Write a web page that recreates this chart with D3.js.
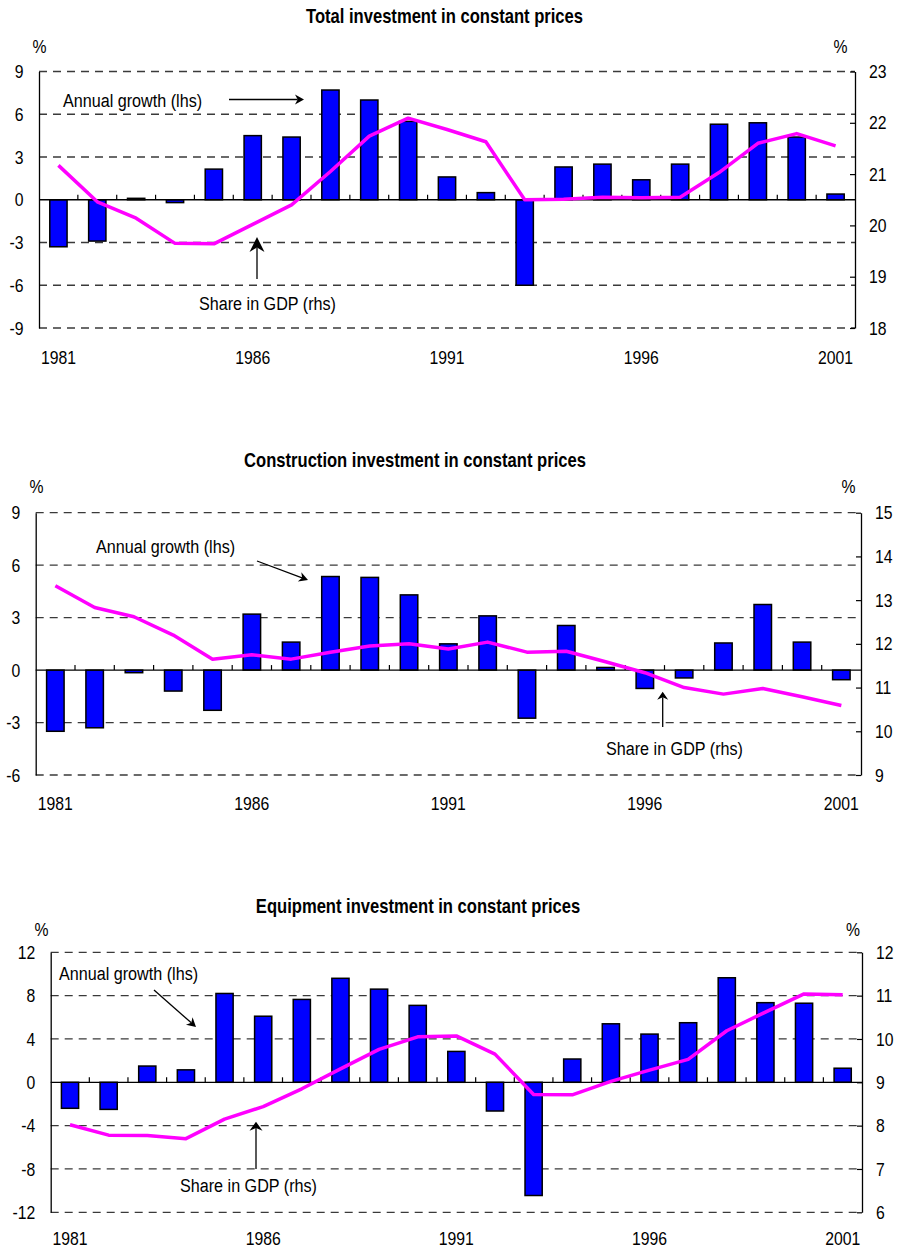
<!DOCTYPE html>
<html><head><meta charset="utf-8">
<script src="https://cdn.jsdelivr.net/npm/d3@7"></script>
<style>
html,body{margin:0;padding:0;background:#fff;}
text{font-family:'Liberation Sans',Arial,sans-serif;fill:#000;}
</style></head>
<body>
<script>
// ---------- data ----------
const years = ["1981","1982","1983","1984","1985","1986","1987","1988","1989","1990","1991",
               "1992","1993","1994","1995","1996","1997","1998","1999","2000","2001"];
const yearLabels = ["1981","1986","1991","1996","2001"];

const totalGrowth = [-3.3,-2.9,0.1,-0.2,2.15,4.5,4.4,7.7,7.0,5.5,1.6,0.5,-6.0,2.3,2.5,1.4,2.5,5.3,5.4,4.4,0.4];
const totalShare  = [21.17,20.46,20.14,19.65,19.64,20.02,20.40,21.05,21.74,22.09,21.87,21.63,20.50,20.51,20.55,20.54,20.55,21.03,21.60,21.79,21.55];

const constrGrowth = [-3.5,-3.3,-0.15,-1.2,-2.3,3.2,1.6,5.35,5.3,4.3,1.5,3.1,-2.75,2.55,0.15,-1.05,-0.45,1.55,3.75,1.6,-0.55];
const constrShare  = [13.33,12.83,12.62,12.20,11.65,11.75,11.65,11.81,11.95,12.00,11.88,12.04,11.81,11.83,11.59,11.34,11.00,10.85,10.98,10.79,10.59];

const equipGrowth = [-2.4,-2.5,1.5,1.15,8.2,6.1,7.65,9.6,8.6,7.1,2.85,-2.65,-10.45,2.15,5.4,4.45,5.5,9.65,7.35,7.3,1.3];
const equipShare  = [8.02,7.78,7.77,7.70,8.15,8.44,8.85,9.31,9.76,10.05,10.07,9.65,8.72,8.71,9.02,9.28,9.53,10.19,10.62,11.04,11.02];

const leftTicks1 = [-9,-6,-3,0,3,6,9];
const rightTicks1 = [18,19,20,21,22,23];
const leftTicks2 = [-6,-3,0,3,6,9];
const rightTicks2 = [9,10,11,12,13,14,15];
const leftTicks3 = [-12,-8,-4,0,4,8,12];
const rightTicks3 = [6,7,8,9,10,11,12];

const titles = ["Total investment in constant prices",
                "Construction investment in constant prices",
                "Equipment investment in constant prices"];
const growthLabel = "Annual growth (lhs)";
const shareLabel = "Share in GDP (rhs)";

// ---------- drawing ----------
const SX = 0.83;      // narrow-font emulation
const svg = d3.select("body").append("svg").attr("width",898).attr("height",1249);

function txt(g, x, y, s, size, anchor, sx, bold){
  const t = g.append("text").attr("transform",`translate(${x},${y}) scale(${sx||SX},1)`)
    .attr("font-size",size).attr("text-anchor",anchor||"start").text(s);
  if(bold) t.attr("font-weight","bold");
  return t;
}

function arrow(g, x1,y1,x2,y2, len, hw){
  const a = Math.atan2(y2-y1,x2-x1);
  const bx = x2 - len*Math.cos(a), by = y2 - len*Math.sin(a);
  g.append("line").attr("x1",x1).attr("y1",y1).attr("x2",bx+(len*0.3)*Math.cos(a)).attr("y2",by+(len*0.3)*Math.sin(a))
    .attr("stroke","#000").attr("stroke-width",1.3);
  const px = -Math.sin(a), py = Math.cos(a);
  g.append("path").attr("d",`M${x2},${y2}L${bx+hw*px},${by+hw*py}L${bx+0.3*len*Math.cos(a)},${by+0.3*len*Math.sin(a)}L${bx-hw*px},${by-hw*py}Z`).attr("fill","#000");
}

function panel(cfg){
  const g = svg.append("g");
  const x = d3.scaleBand().domain(years).range([cfg.left,cfg.right]).paddingInner(0.555).paddingOuter(0.2775);
  const yL = d3.scaleLinear().domain(d3.extent(cfg.leftTicks)).range([cfg.bottom,cfg.top]);
  const yR = d3.scaleLinear().domain(d3.extent(cfg.rightTicks)).range([cfg.bottom,cfg.top]);

  // title and percent labels
  txt(g, cfg.titleX, cfg.titleY, cfg.title, 20, "middle", SX, true);
  txt(g, cfg.pctL, cfg.pctY, "%", 19, "middle");
  txt(g, cfg.pctR, cfg.pctY, "%", 19, "middle");

  // grid
  g.append("g").selectAll("line").data(cfg.leftTicks.filter(d=>d!==0)).join("line")
    .attr("x1",cfg.left).attr("x2",cfg.right).attr("y1",d=>yL(d)).attr("y2",d=>yL(d))
    .attr("stroke","#3a3a3a").attr("stroke-width",1.3).attr("stroke-dasharray","8,6");

  // bars
  g.append("g").selectAll("rect").data(cfg.growth).join("rect")
    .attr("x",(d,i)=>x(years[i])).attr("width",x.bandwidth())
    .attr("y",d=>Math.min(yL(d),yL(0))).attr("height",d=>Math.abs(yL(d)-yL(0)))
    .attr("fill","#0000FF").attr("stroke","#000").attr("stroke-width",1.5);

  // zero line and x ticks
  g.append("line").attr("x1",cfg.left).attr("x2",cfg.right).attr("y1",yL(0)).attr("y2",yL(0))
    .attr("stroke","#000").attr("stroke-width",1.3);
  const gap = (x.step()-x.bandwidth())/2;
  g.append("g").selectAll("line").data(years.slice(1)).join("line")
    .attr("x1",d=>x(d)-gap).attr("x2",d=>x(d)-gap).attr("y1",yL(0)).attr("y2",yL(0)-5)
    .attr("stroke","#000").attr("stroke-width",1.2);

  // axes
  const aL = g.append("g").attr("transform",`translate(${cfg.left},0)`)
    .call(d3.axisLeft(yL).tickValues(cfg.leftTicks).tickSize(0).tickPadding(15.5).tickFormat(d=>String(d)));
  const aR = g.append("g").attr("transform",`translate(${cfg.right},0)`)
    .call(d3.axisRight(yR).tickValues(cfg.rightTicks).tickSizeInner(-5).tickSizeOuter(0).tickPadding(14).tickFormat(d=>String(d)));
  [aL,aR].forEach(a=>{
    a.select(".domain").attr("stroke","#000").attr("stroke-width",1.3);
    a.selectAll(".tick line").attr("stroke","#000").attr("stroke-width",1.2);
    a.selectAll(".tick text").attr("font-size",19).attr("fill","#000")
      .attr("font-family","'Liberation Sans',Arial,sans-serif")
      .each(function(){
        const t = d3.select(this);
        const xv = +t.attr("x");
        t.attr("x", xv/SX).attr("transform",`scale(${SX},1)`);
      });
  });

  // year labels
  yearLabels.forEach(d=>txt(g, x(d)+x.bandwidth()/2, cfg.yearY, d, 19, "middle"));

  // share line
  g.append("path").datum(cfg.share)
    .attr("d",d3.line().x((d,i)=>x(years[i])+x.bandwidth()/2).y(d=>yR(d)))
    .attr("fill","none").attr("stroke","#FF00FF").attr("stroke-width",3.5).attr("stroke-linejoin","round");

  // annotations
  txt(g, cfg.gLab[0], cfg.gLab[1], growthLabel, 19, "start", 0.85);
  txt(g, cfg.sLab[0], cfg.sLab[1], shareLabel, 19, "start", 0.85);
  arrow(g, ...cfg.gArrow);
  arrow(g, ...cfg.sArrow);
}

panel({title:titles[0], titleX:444.5, titleY:23, pctL:39.5, pctR:840.5, pctY:53,
  left:39, right:855, top:71.5, bottom:328, yearY:364,
  leftTicks:leftTicks1, rightTicks:rightTicks1, growth:totalGrowth, share:totalShare,
  gLab:[63,107], sLab:[199,310],
  gArrow:[229,99.5,304,99.5,9,5], sArrow:[257,279,257,237,15,7.5]});

panel({title:titles[1], titleX:415, titleY:467, pctL:36.5, pctR:848.5, pctY:492.7,
  left:35.7, right:861, top:512.7, bottom:775, yearY:810,
  leftTicks:leftTicks2, rightTicks:rightTicks2, growth:constrGrowth, share:constrShare,
  gLab:[96,553], sLab:[606,755],
  gArrow:[257,561,308,580,9,5], sArrow:[662.7,727,662.7,691.7,8,5.5]});

panel({title:titles[2], titleX:418, titleY:913, pctL:41.5, pctR:853, pctY:935.7,
  left:50.7, right:862, top:952.3, bottom:1212.3, yearY:1245,
  leftTicks:leftTicks3, rightTicks:rightTicks3, growth:equipGrowth, share:equipShare,
  gLab:[59,980], sLab:[180,1192],
  gArrow:[154,990,196,1027,9,5], sArrow:[256,1169,256,1121.7,9,6.5]});
</script>
</body></html>
